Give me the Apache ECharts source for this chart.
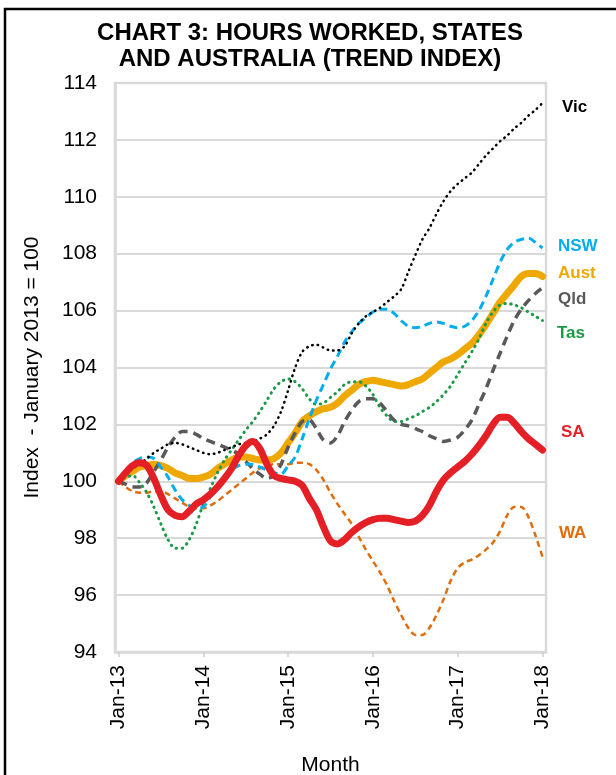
<!DOCTYPE html>
<html>
<head>
<meta charset="utf-8">
<script src="https://cdn.jsdelivr.net/npm/echarts@6/dist/echarts.min.js"></script>
<style>
html,body{margin:0;padding:0;background:#fff;}
#chart{width:616px;height:775px;}
</style>
</head>
<body>
<div id="chart"></div>
<script>
// ---- Data ----
const years = ['13','14','15','16','17','18'];
const monthNames = ['Jan','Feb','Mar','Apr','May','Jun','Jul','Aug','Sep','Oct','Nov','Dec'];
const months = [];
for (let y = 0; y < years.length; y++) {
  for (let m = 0; m < 12; m++) {
    if (y === years.length - 1 && m > 0) break;
    months.push(monthNames[m] + '-' + years[y]);
  }
}

const vic = [100.0,100.25,100.45,100.6,100.8,101.0,101.15,101.3,101.35,101.3,101.2,101.1,
  101.0,100.95,101.0,101.1,101.2,101.3,101.35,101.4,101.5,101.65,101.95,102.45,
  103.2,104.0,104.55,104.75,104.8,104.7,104.6,104.6,104.75,105.2,105.55,105.8,
  105.95,106.1,106.3,106.5,106.75,107.35,107.95,108.5,108.9,109.4,109.85,110.2,
  110.45,110.65,110.85,111.15,111.45,111.7,111.95,112.15,112.4,112.6,112.85,113.05,
  113.3];

const nsw = [100.0,100.35,100.65,100.8,100.85,100.8,100.5,100.15,99.7,99.35,99.15,99.05,
  99.1,99.45,99.8,100.15,100.4,100.55,100.6,100.6,100.5,100.4,100.3,100.25,
  100.55,100.85,101.5,102.2,102.85,103.4,103.95,104.4,104.9,105.25,105.55,105.75,
  105.95,106.05,106.05,105.9,105.65,105.45,105.4,105.45,105.55,105.6,105.55,105.45,
  105.4,105.45,105.65,106.0,106.5,107.1,107.7,108.15,108.4,108.5,108.55,108.4,
  108.2];

const aust = [100.0,100.2,100.35,100.5,100.55,100.6,100.55,100.45,100.3,100.2,100.1,100.1,
  100.15,100.25,100.45,100.6,100.75,100.85,100.85,100.8,100.75,100.75,100.8,101.0,
  101.35,101.7,102.1,102.3,102.45,102.55,102.6,102.75,103.0,103.2,103.4,103.5,
  103.55,103.5,103.45,103.4,103.35,103.4,103.5,103.6,103.8,104.0,104.2,104.3,
  104.45,104.65,104.85,105.15,105.5,105.9,106.3,106.6,106.9,107.2,107.3,107.3,
  107.2];

const qld = [100.0,99.9,99.8,99.8,99.95,100.35,100.75,101.2,101.55,101.75,101.75,101.65,
  101.5,101.4,101.3,101.2,101.1,100.95,100.7,100.45,100.25,100.1,100.2,100.6,
  101.2,101.7,102.1,102.15,101.85,101.45,101.35,101.6,102.1,102.5,102.8,102.9,
  102.9,102.75,102.45,102.15,102.0,101.95,101.85,101.75,101.6,101.5,101.4,101.45,
  101.55,101.8,102.15,102.7,103.25,103.9,104.5,105.1,105.65,106.05,106.35,106.6,
  106.8];

const tas = [100.0,100.15,100.2,99.95,99.6,99.1,98.5,97.95,97.65,97.65,97.95,98.5,
  99.2,99.75,100.3,100.75,101.1,101.45,101.8,102.1,102.45,102.85,103.25,103.5,
  103.6,103.5,103.25,102.9,102.7,102.75,102.95,103.15,103.4,103.5,103.5,103.35,
  103.05,102.6,102.3,102.1,102.1,102.2,102.3,102.45,102.6,102.8,103.05,103.35,
  103.75,104.15,104.55,105.0,105.55,105.95,106.2,106.25,106.2,106.1,105.95,105.8,
  105.65];

const sa = [100.0,100.3,100.55,100.65,100.55,100.1,99.5,99.0,98.8,98.75,98.95,99.2,
  99.35,99.55,99.8,100.1,100.45,100.9,101.25,101.4,101.15,100.6,100.2,100.1,
  100.05,100.0,99.85,99.4,99.0,98.4,97.9,97.8,97.95,98.2,98.4,98.55,
  98.65,98.7,98.7,98.65,98.6,98.55,98.6,98.8,99.15,99.65,100.05,100.3,
  100.5,100.7,100.95,101.25,101.6,102.0,102.25,102.25,102.05,101.75,101.5,101.3,
  101.1];

const wa = [100.0,99.8,99.65,99.6,99.6,99.65,99.65,99.55,99.4,99.25,99.1,99.05,
  99.05,99.15,99.3,99.5,99.7,99.9,100.1,100.3,100.45,100.55,100.6,100.6,
  100.6,100.65,100.65,100.6,100.4,100.05,99.6,99.2,98.85,98.5,98.05,97.6,
  97.2,96.8,96.35,95.8,95.3,94.85,94.6,94.6,94.85,95.3,95.85,96.5,
  96.95,97.15,97.25,97.4,97.6,97.85,98.25,98.8,99.1,99.1,98.75,98.1,
  97.35];

const yMin = 94, yMax = 114, yStep = 2;
const titleText = 'CHART 3: HOURS WORKED, STATES\nAND AUSTRALIA (TREND INDEX)';
const yName = 'Index  - January 2013 = 100';
const xName = 'Month';

const FONT = "'Liberation Sans', Arial, Helvetica, sans-serif";

const seriesDefs = [
  {name: 'Aust', data: aust, color: '#EEA800', width: 7, type: 'solid', cap: 'round'},
  {name: 'WA',   data: wa,   color: '#E36C0A', width: 2.5, type: [6, 4], cap: 'butt'},
  {name: 'Tas',  data: tas,  color: '#1A9A46', width: 3, type: [0.5, 5.5], cap: 'round'},
  {name: 'Qld',  data: qld,  color: '#595959', width: 3.5, type: [9, 6], cap: 'butt'},
  {name: 'NSW',  data: nsw,  color: '#00AEEF', width: 3, type: [8, 5], cap: 'butt'},
  {name: 'Vic',  data: vic,  color: '#000000', width: 2.5, type: [0.5, 5], cap: 'round'},
  {name: 'SA',   data: sa,   color: '#E41F26', width: 7, type: 'solid', cap: 'round'}
];

const endLabels = [
  {text: 'Vic', color: '#000000', x: 562, y: 107},
  {text: 'NSW', color: '#00AEEF', x: 558, y: 246},
  {text: 'Aust', color: '#EEA800', x: 558, y: 273},
  {text: 'Qld', color: '#595959', x: 558, y: 299},
  {text: 'Tas', color: '#1A9A46', x: 557, y: 333},
  {text: 'SA', color: '#E41F26', x: 561, y: 432},
  {text: 'WA', color: '#E36C0A', x: 559, y: 533}
];

const chart = echarts.init(document.getElementById('chart'), null, {renderer: 'canvas'});

const option = {
  animation: false,
  backgroundColor: '#ffffff',
  title: {
    text: titleText,
    left: 305,
    top: 15,
    textAlign: 'center',
    textStyle: {fontFamily: FONT, fontSize: 24, fontWeight: 'bold', color: '#000', lineHeight: 26}
  },
  grid: {
    left: 115, right: 70, top: 83, bottom: 123,
    outerBoundsMode: 'none',
    containLabel: false,
    show: true, borderColor: '#d9d9d9', borderWidth: 2.5, backgroundColor: 'transparent'
  },
  xAxis: {
    type: 'category',
    data: months,
    boundaryGap: true,
    name: xName,
    nameLocation: 'middle',
    nameGap: 103,
    nameTextStyle: {fontFamily: FONT, fontSize: 21, color: '#000'},
    axisLine: {show: true, lineStyle: {color: '#d9d9d9', width: 2.5}},
    axisTick: {show: true, alignWithLabel: true, interval: 11, length: 5, lineStyle: {color: '#d0d0d0', width: 1.5}},
    axisLabel: {interval: 11, rotate: 90, margin: 13, fontFamily: FONT, fontSize: 21, color: '#000'},
    splitLine: {show: false}
  },
  yAxis: {
    type: 'value',
    min: yMin, max: yMax, interval: yStep,
    name: yName,
    nameLocation: 'middle',
    nameRotate: 90,
    nameGap: 72,
    nameTextStyle: {fontFamily: FONT, fontSize: 21, color: '#000'},
    axisLine: {show: true, lineStyle: {color: '#d9d9d9', width: 2.5}},
    axisTick: {show: false},
    axisLabel: {margin: 18, fontFamily: FONT, fontSize: 21, color: '#000'},
    splitLine: {show: true, lineStyle: {color: '#d9d9d9', width: 2}}
  },
  series: seriesDefs.map(s => ({
    name: s.name,
    type: 'line',
    data: s.data,
    smooth: 0.3,
    symbol: 'none',
    lineStyle: {color: s.color, width: s.width, type: s.type, cap: s.cap, join: 'round'},
    emphasis: {disabled: true}
  })),
  graphic: [
    {type: 'rect', shape: {x: 5, y: 9, width: 640, height: 800}, style: {fill: 'none', stroke: '#000', lineWidth: 2.5}, silent: true, z: 100}
  ].concat(endLabels.map(l => ({
    type: 'text', x: l.x, y: l.y,
    style: {text: l.text, fill: l.color, font: 'bold 17px ' + FONT, textVerticalAlign: 'middle'},
    silent: true, z: 100
  })))
};

chart.setOption(option);
</script>
</body>
</html>
